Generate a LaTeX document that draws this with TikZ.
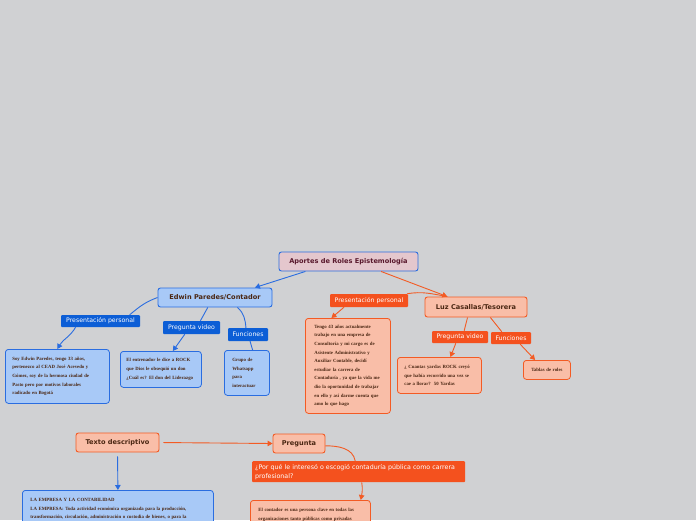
\documentclass[tikz,border=0pt]{standalone}
\usepackage{fontspec}
\usetikzlibrary{positioning,calc,arrows.meta}
\newfontfamily\headfont{DejaVu Sans}
\newfontfamily\notefont{Liberation Serif}
\definecolor{paper}{RGB}{208,209,211}
\definecolor{bluefill}{RGB}{168,201,247}
\definecolor{blueline}{RGB}{42,109,224}
\definecolor{bluetagfill}{RGB}{12,94,214}
\definecolor{salmon}{RGB}{249,190,168}
\definecolor{orangeline}{RGB}{243,91,36}
\definecolor{orangetagfill}{RGB}{244,81,30}
\definecolor{rootfill}{RGB}{228,199,205}
\definecolor{headtext}{RGB}{74,38,18}
\definecolor{roottext}{RGB}{88,24,44}

\begin{document}
\begin{tikzpicture}[
    x=1pt, y=-1pt,
    >={Triangle[length=5pt,width=5.5pt]},
    topic/.style={draw, rounded corners=2.5pt, line width=0.9pt, inner sep=0pt, minimum height=19pt, text=headtext, font=\headfont\fontsize{6.6}{7}\selectfont\bfseries},
    roottopic/.style={topic, fill=rootfill, draw=blueline, text=roottext},
    bluetopic/.style={topic, fill=bluefill, draw=blueline},
    orangetopic/.style={topic, fill=salmon, draw=orangeline},
    tag/.style={rounded corners=1pt, inner sep=0pt, text=white, font=\headfont\fontsize{6.2}{7}\selectfont},
    bluetag/.style={tag, fill=bluetagfill},
    orangetag/.style={tag, fill=orangetagfill},
    note/.style={draw, anchor=north west, rounded corners=3pt, line width=0.8pt, inner xsep=7pt, inner ysep=0pt, align=left, text=headtext, font=\notefont\fontsize{4.8}{8.6}\selectfont\bfseries},
    bluenote/.style={note, fill=bluefill, draw=blueline},
    orangenote/.style={note, fill=salmon, draw=orangeline},
    bline/.style={draw=blueline, line width=0.9pt},
    oline/.style={draw=orangeline, line width=0.9pt}
]

% Canvas
\useasboundingbox (0,0) rectangle (696,520);
\fill[paper] (0,0) rectangle (696,520);
\clip (0,0) rectangle (696,520);

% Main topics
\node[roottopic, minimum width=139pt] (root) at (348.5,261.5) {Aportes de Roles Epistemología};
\node[bluetopic, minimum width=114pt] (edwin) at (215,297.5) {Edwin Paredes/Contador};
\node[orangetopic, minimum width=102pt, minimum height=20pt] (luz) at (476,307) {Luz Casallas/Tesorera};
\node[orangetopic, minimum width=83pt] (texto) at (117.5,442.5) {Texto descriptivo};
\node[orangetopic, minimum width=52pt] (pregunta) at (299,443.5) {Pregunta};

% Labels on the branches
\node[bluetag, minimum width=79pt, minimum height=12pt] (edwinPres) at (100.5,321) {Presentación personal};
\node[bluetag, minimum width=57pt, minimum height=13pt] (edwinVid) at (191.5,327.5) {Pregunta video};
\node[bluetag, minimum width=40pt, minimum height=13pt] (edwinFun) at (248,334.5) {Funciones};
\node[orangetag, minimum width=78pt, minimum height=13pt] (luzPres) at (369,300.5) {Presentación personal};
\node[orangetag, minimum width=56pt, minimum height=12pt] (luzVid) at (460,337) {Pregunta video};
\node[orangetag, minimum width=40pt, minimum height=12pt] (luzFun) at (511,338) {Funciones};
\node[orangetag, anchor=north west, minimum width=213pt, minimum height=21pt, text width=207pt, align=left, font=\headfont\fontsize{6.3}{9}\selectfont] (porque) at (252,461) {¿Por qué le interesó o escogió contaduría pública como carrera\\profesional?};

% Notes, Edwin
\node[bluenote, text width=90pt, minimum height=54pt] (edwinNote) at (5,349) {Soy Edwin Paredes, tengo 33 años,\\pertenezco al CEAD José Acevedo y\\Gómez, soy de la hermosa ciudad de\\Pasto pero por motivos laborales\\radicado en Bogotá};
\node[bluenote, text width=69pt, inner xsep=6pt, minimum height=36pt] (edwinVidNote) at (120,351) {El entrenador le dice a ROCK\\que Dios le obsequió un don\\¿Cuál es? El don del Liderazgo};
\node[bluenote, text width=29pt, inner xsep=8pt, minimum height=45pt] (edwinFunNote) at (224,350) {Grupo de\\Whatsapp\\para\\interactuar};

% Notes, Luz
\node[orangenote, text width=67pt, inner xsep=9pt, minimum height=95pt] (luzNote) at (305,318) {Tengo 43 años actualmente\\trabajo en una empresa de\\Consultoría y mi cargo es de\\Asistente Administrativo y\\Auxiliar Contable, decidí\\estudiar la carrera de\\Contaduría , ya que la vida me\\dio la oportunidad de trabajar\\en ello y así darme cuenta que\\amo lo que hago};
\node[orangenote, text width=70pt, minimum height=36pt] (luzVidNote) at (397,357) {¿ Cuantas yardas ROCK creyó\\que había recorrido una vez se\\cae a llorar?\ \ 50 Yardas};
\node[orangenote, text width=33pt, align=center, minimum height=19pt] (luzFunNote) at (523,360) {Tablas de roles};

% Notes, bottom
\node[bluenote, text width=175pt, inner xsep=8pt, inner ysep=8pt, text depth=40pt] (empresaNote) at (22,490) {LA EMPRESA Y LA CONTABILIDAD\\LA EMPRESA: Toda actividad económica organizada para la producción,\\transformación, circulación, administración o custodia de bienes, o para la};
\node[orangenote, text width=104pt, inner xsep=8pt, inner ysep=8pt, text depth=40pt] (contadorNote) at (250,500) {El contador es una persona clave en todas las\\organizaciones tanto públicas como privadas};

% Edwin branch
\draw[bline, ->] (root.193) -- (edwin.14);
\draw[bline] (edwin.west) to[out=200,in=40] (edwinPres.12);
\draw[bline, ->] (edwinPres.194) to[out=240,in=60] (edwinNote.north);
\draw[bline] (edwin.234) -- (edwinVid.37);
\draw[bline, ->] (edwinVid.225) -- (edwinVidNote.57);
\draw[bline] (edwin.-24) to[out=-40,in=95] (edwinFun.107);
\draw[bline] (edwinFun.-73) -- (edwinFunNote.76);

% Luz branch
\draw[oline, ->] (root.343) -- (luz.160);
\draw[oline] (luz.160) to[out=170,in=10] (luzPres.10);
\draw[oline, ->] (luzPres.195) -- (luzNote.109);
\draw[oline] (luz.231) -- (luzVid.56);
\draw[oline, ->] (luzVid.236) -- (luzVidNote.59);
\draw[oline] (luz.-36) -- (luzFun.146);
\draw[oline, ->] (luzFun.-34) -- (luzFunNote.140);

% Bottom part
\draw[oline, ->, shorten <=4pt] (texto.east) -- (pregunta.west);
\draw[bline, ->, shorten <=4pt] (texto.south) -- (empresaNote.north);
\draw[oline] (pregunta.-5) to[out=0,in=100] (porque.108);
\draw[oline, ->] ($(porque.south)+(3,0)$) to[out=-80,in=80] ($(contadorNote.north east)+(-10,0)$);

\end{tikzpicture}
\end{document}
